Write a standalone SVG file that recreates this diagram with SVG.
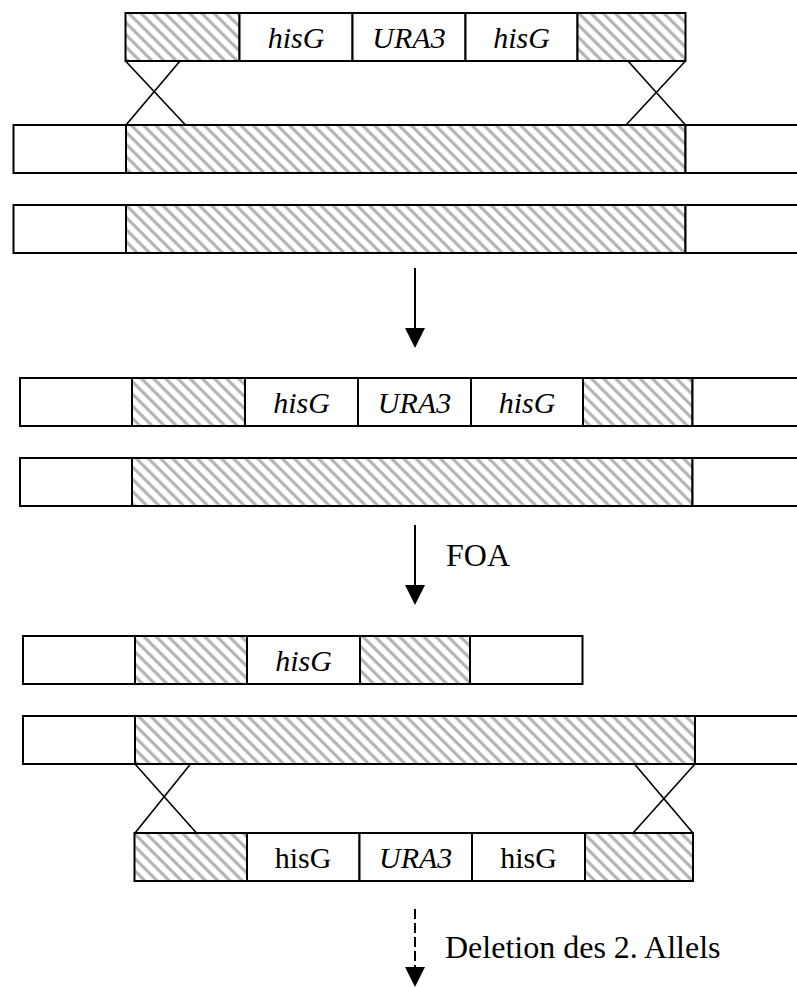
<svg xmlns="http://www.w3.org/2000/svg" width="797" height="987" viewBox="0 0 797 987">
  <defs>
    <!-- grey diagonal hatching for the homologous flanking regions -->
    <pattern id="hatch" patternUnits="userSpaceOnUse" width="8.6" height="8.6" patternTransform="rotate(-45)">
      <rect width="8.6" height="8.6" fill="#fff"/>
      <line x1="4.3" y1="-1" x2="4.3" y2="9.6" stroke="#b4b4b4" stroke-width="3.2"/>
    </pattern>
  </defs>
  <style>
    .box { stroke: #000; stroke-width: 2; }
    .wt { fill: #fff; }
    .ht { fill: url(#hatch); }
    .lbl { font-family: "Liberation Serif", "Times New Roman", serif; font-size: 30px; text-anchor: middle; fill: #000; }
    .it { font-style: italic; }
    .note { font-family: "Liberation Serif", "Times New Roman", serif; font-size: 32px; fill: #000; }
    .xo { stroke: #000; stroke-width: 1.6; fill: none; }
    .shaft { stroke: #000; stroke-width: 2; fill: none; }
    .dash { stroke-dasharray: 10 4; }
    .head { fill: #000; }
  </style>
  <rect width="797" height="987" fill="#fff"/>

  <!-- disruption cassette -->
  <g id="cassette-1">
    <rect class="box ht" x="125.5" y="13" width="114" height="48"/>
    <rect class="box wt" x="239.5" y="13" width="113" height="48"/>
    <rect class="box wt" x="352.5" y="13" width="113" height="48"/>
    <rect class="box wt" x="465.5" y="13" width="112" height="48"/>
    <rect class="box ht" x="577.5" y="13" width="108" height="48"/>
    <text class="lbl it" x="296" y="48">hisG</text>
    <text class="lbl it" x="409" y="48">URA3</text>
    <text class="lbl it" x="521.5" y="48">hisG</text>
  </g>

  <!-- wild-type alleles -->
  <g id="allele1-wt">
    <rect class="box wt" x="13.5" y="125" width="112.5" height="48"/>
    <rect class="box ht" x="126" y="125" width="559.5" height="48"/>
    <rect class="box wt" x="685.5" y="125" width="120" height="48"/>
  </g>
  <g id="allele2-wt">
    <rect class="box wt" x="13.5" y="205" width="112.5" height="48"/>
    <rect class="box ht" x="126" y="205" width="559.5" height="48"/>
    <rect class="box wt" x="685.5" y="205" width="120" height="48"/>
  </g>

  <!-- first allele disrupted -->
  <g id="allele1-disrupted">
    <rect class="box wt" x="20" y="378" width="112" height="48"/>
    <rect class="box ht" x="132" y="378" width="113" height="48"/>
    <rect class="box wt" x="245" y="378" width="113" height="48"/>
    <rect class="box wt" x="358" y="378" width="113" height="48"/>
    <rect class="box wt" x="471" y="378" width="112" height="48"/>
    <rect class="box ht" x="583" y="378" width="109.5" height="48"/>
    <rect class="box wt" x="692.5" y="378" width="120" height="48"/>
    <text class="lbl it" x="301.5" y="413">hisG</text>
    <text class="lbl it" x="414.5" y="413">URA3</text>
    <text class="lbl it" x="527" y="413">hisG</text>
  </g>
  <g id="allele2-intact">
    <rect class="box wt" x="20" y="458" width="112" height="48"/>
    <rect class="box ht" x="132" y="458" width="560.5" height="48"/>
    <rect class="box wt" x="692.5" y="458" width="120" height="48"/>
  </g>

  <!-- after URA3 loss on FOA -->
  <g id="allele1-hisG">
    <rect class="box wt" x="23" y="636" width="112" height="48"/>
    <rect class="box ht" x="135" y="636" width="112" height="48"/>
    <rect class="box wt" x="247" y="636" width="113" height="48"/>
    <rect class="box ht" x="360" y="636" width="110" height="48"/>
    <rect class="box wt" x="470" y="636" width="112.5" height="48"/>
    <text class="lbl it" x="303.5" y="671">hisG</text>
  </g>
  <g id="allele2-target">
    <rect class="box wt" x="23" y="716" width="112" height="48"/>
    <rect class="box ht" x="135" y="716" width="560" height="48"/>
    <rect class="box wt" x="695" y="716" width="120" height="48"/>
  </g>

  <!-- cassette reused for the second allele -->
  <g id="cassette-2">
    <rect class="box ht" x="134.5" y="833" width="112.5" height="48"/>
    <rect class="box wt" x="247" y="833" width="112.5" height="48"/>
    <rect class="box wt" x="359.5" y="833" width="112.5" height="48"/>
    <rect class="box wt" x="472" y="833" width="113" height="48"/>
    <rect class="box ht" x="585" y="833" width="108" height="48"/>
    <text class="lbl" x="303" y="868">hisG</text>
    <text class="lbl it" x="415.7" y="868">URA3</text>
    <text class="lbl" x="528.5" y="868">hisG</text>
  </g>

  <!-- connectors: recombination crossovers and process arrows -->
  <g id="connectors">
    <line class="xo" x1="125.5" y1="61" x2="185.5" y2="125"/>
    <line class="xo" x1="180" y1="61" x2="126" y2="125"/>
    <line class="xo" x1="628" y1="61" x2="685.5" y2="125"/>
    <line class="xo" x1="685.5" y1="61" x2="626" y2="125"/>

    <line class="xo" x1="135" y1="764" x2="196.5" y2="833"/>
    <line class="xo" x1="190.5" y1="764" x2="135" y2="833"/>
    <line class="xo" x1="634.5" y1="764" x2="693" y2="833"/>
    <line class="xo" x1="695" y1="764" x2="633" y2="833"/>

    <line class="shaft" x1="415" y1="268" x2="415" y2="330"/>
    <polygon class="head" points="405,328 425,328 415,348"/>

    <line class="shaft" x1="415" y1="525" x2="415" y2="587"/>
    <polygon class="head" points="405,585 425,585 415,605"/>

    <line class="shaft dash" x1="415" y1="909" x2="415" y2="969"/>
    <polygon class="head" points="405,967 425,967 415,987"/>
  </g>

  <text class="note" x="446" y="566">FOA</text>
  <text class="note" x="445" y="958">Deletion des 2. Allels</text>
</svg>
